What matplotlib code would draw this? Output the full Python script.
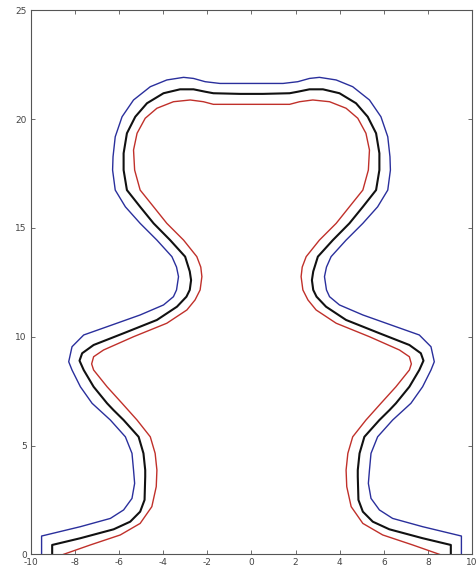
import numpy as np
import matplotlib
matplotlib.use("Agg")
import matplotlib.pyplot as plt

# Left half of each contour (bottom -> top centre); mirrored for the right half
black_x = [-9.04, -9.04, -7.76, -6.25, -5.50, -5.05, -4.85, -4.82, -4.82, -4.90, -5.12, -5.80, -6.26,
           -6.55, -7.16, -7.61, -7.80, -7.68, -7.16, -5.80, -4.29, -3.38, -2.95, -2.80, -2.74, -2.80,
           -3.01, -3.69, -4.44, -5.05, -5.65, -5.80, -5.80, -5.65, -5.27, -4.74, -3.99, -3.24, -2.63,
           -2.10, -1.73, -0.52, 0.0]
black_y = [0.00, 0.43, 0.74, 1.15, 1.50, 1.96, 2.50, 3.57, 3.87, 4.64, 5.40, 6.17, 6.63,
           6.94, 7.70, 8.47, 8.90, 9.24, 9.62, 10.16, 10.77, 11.38, 11.84, 12.15, 12.60, 13.00,
           13.68, 14.44, 15.21, 15.97, 16.74, 17.66, 18.43, 19.35, 20.11, 20.73, 21.19, 21.37, 21.37,
           21.26, 21.19, 21.16, 21.16]

blue_x = [-9.52, -9.52, -7.76, -6.40, -5.80, -5.42, -5.30, -5.35, -5.42, -5.72, -6.40, -7.23,
          -7.76, -8.14, -8.29, -8.14, -7.61, -6.55, -5.05, -3.99, -3.54, -3.40, -3.31, -3.40,
          -3.61, -4.29, -5.05, -5.72, -6.18, -6.30, -6.28, -6.18, -5.87, -5.35, -4.59, -3.84,
          -3.08, -2.63, -2.10, -1.43, -0.52, 0.0]
blue_y = [0.00, 0.84, 1.27, 1.65, 2.04, 2.57, 3.26, 3.87, 4.64, 5.40, 6.17, 6.94,
          7.70, 8.47, 8.85, 9.54, 10.08, 10.46, 11.00, 11.46, 11.84, 12.15, 12.76, 13.20,
          13.68, 14.44, 15.21, 15.97, 16.74, 17.66, 18.27, 19.19, 20.11, 20.88, 21.49, 21.80,
          21.92, 21.87, 21.72, 21.64, 21.64, 21.64]

red_x = [-8.52, -7.31, -5.95, -5.05, -4.52, -4.32, -4.29, -4.37, -4.59, -5.19, -5.87, -6.55,
         -7.16, -7.25, -7.16, -6.71, -5.35, -3.84, -2.93, -2.56, -2.33, -2.25, -2.30, -2.48,
         -3.08, -3.84, -4.44, -5.05, -5.30, -5.35, -5.19, -4.82, -4.29, -3.54, -2.78, -2.18,
         -1.73, -0.52, 0.0]
red_y = [0.00, 0.43, 0.89, 1.42, 2.19, 3.11, 3.87, 4.64, 5.40, 6.17, 6.94, 7.70,
         8.47, 8.75, 9.08, 9.39, 10.00, 10.62, 11.23, 11.69, 12.15, 12.76, 13.20, 13.68,
         14.44, 15.21, 15.97, 16.74, 17.66, 18.58, 19.35, 20.04, 20.50, 20.80, 20.88, 20.80,
         20.68, 20.68, 20.68]

x_ticks = [-10, -8, -6, -4, -2, 0, 2, 4, 6, 8, 10]
y_ticks = [0, 5, 10, 15, 20, 25]


def full(xs, ys):
    xs = np.asarray(xs, float)
    ys = np.asarray(ys, float)
    return (np.concatenate([xs, -xs[::-1][1:]]),
            np.concatenate([ys, ys[::-1][1:]]))


fig = plt.figure(figsize=(4.77, 5.74), dpi=100)
ax = fig.add_axes([0.065, 0.0343, 0.9245, 0.9477])

bx, by = full(blue_x, blue_y)
kx, ky = full(black_x, black_y)
rx, ry = full(red_x, red_y)
ax.plot(bx, by, color="#2a2f9c", lw=1.0, solid_joinstyle="round")
ax.plot(kx, ky, color="#111111", lw=1.5, solid_joinstyle="round")
ax.plot(rx, ry, color="#c0302a", lw=1.0, solid_joinstyle="round")

ax.set_xlim(-10, 10)
ax.set_ylim(0, 25)
ax.set_xticks(x_ticks)
ax.set_yticks(y_ticks)
ax.set_xticklabels([str(v) for v in x_ticks])
ax.set_yticklabels([str(v) for v in y_ticks])
ax.tick_params(direction="in", top=True, right=True, length=3, width=0.6,
               labelsize=6.5, labelcolor="#444444", color="#555555", pad=3)
for s in ax.spines.values():
    s.set_linewidth(0.8)
    s.set_color("#555555")

fig.savefig("out.png", dpi=100)
